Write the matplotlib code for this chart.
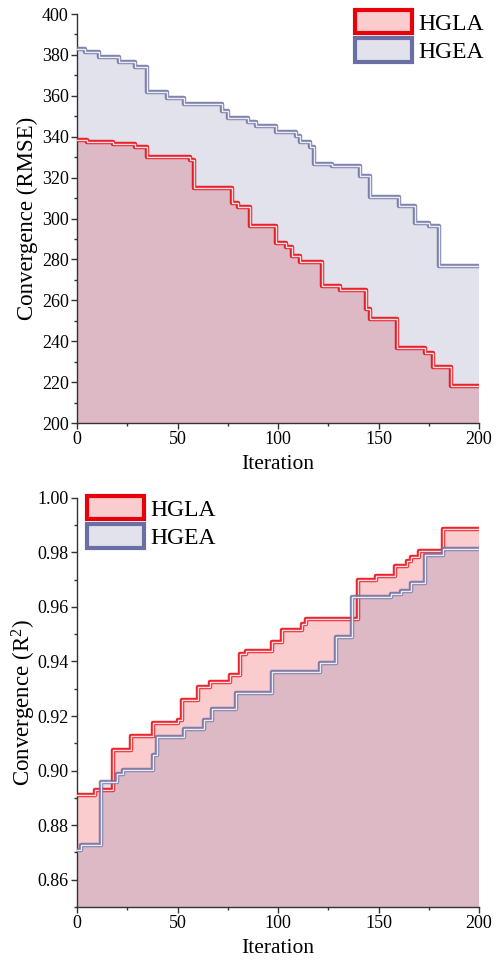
import matplotlib
matplotlib.use("Agg")
import matplotlib.pyplot as plt
from matplotlib.patches import Patch
from matplotlib.ticker import MultipleLocator, FormatStrFormatter

plt.rcParams['font.family'] = ['Liberation Serif', 'DejaVu Serif']
plt.rcParams['mathtext.fontset'] = 'custom'
plt.rcParams['mathtext.rm'] = 'Liberation Serif'
plt.rcParams['mathtext.it'] = 'Liberation Serif:italic'

# ---- data (iteration where a new best value starts, value) ----
labels = ["HGLA", "HGEA"]
x_max = 200

rmse_hgla_iter = [0, 5, 18, 29, 35, 56, 58, 77, 80, 86, 99, 104, 107, 111, 122, 131, 144, 146, 159, 173, 177, 186]
rmse_hgla_val = [338.3, 337.6, 336.6, 334.8, 330.2, 328.8, 314.8, 307.7, 305.5, 296.2, 287.9, 285.9, 281.8, 278.9,
                 267.0, 265.0, 256.0, 250.7, 236.5, 234.0, 227.5, 218.3]

rmse_hgea_iter = [0, 4, 11, 21, 29, 35, 45, 53, 72, 75, 85, 89, 99, 109, 111, 116, 118, 127, 141, 146, 160, 168, 175, 180]
rmse_hgea_val = [382.7, 381.6, 379.1, 376.5, 373.9, 362.0, 358.8, 355.8, 352.7, 349.0, 347.3, 345.2, 342.2, 340.5,
                 337.3, 335.0, 326.7, 325.7, 320.8, 310.4, 306.3, 297.6, 296.5, 277.0]

r2_hgla_iter = [0, 9, 18, 27, 38, 50, 52, 60, 66, 76, 81, 84, 97, 102, 112, 114, 140, 149, 158, 164, 166, 170, 182]
r2_hgla_val = [0.8909, 0.8929, 0.9076, 0.9125, 0.9174, 0.9186, 0.9259, 0.9308, 0.9323, 0.9351, 0.9427, 0.9437,
               0.9470, 0.9517, 0.9537, 0.9557, 0.9700, 0.9713, 0.9751, 0.9768, 0.9781, 0.9806, 0.9884]

r2_hgea_iter = [0, 2, 12, 20, 23, 38, 40, 53, 63, 67, 79, 97, 121, 129, 137, 156, 161, 166, 173, 182]
r2_hgea_val = [0.8709, 0.8728, 0.8960, 0.8988, 0.9003, 0.9058, 0.9122, 0.9152, 0.9186, 0.9225, 0.9286, 0.9360,
               0.9395, 0.9490, 0.9637, 0.9647, 0.9659, 0.9686, 0.9790, 0.9811]

red = '#e8000a'
blue = '#6a6ea3'
fill_alpha = 0.2

fig = plt.figure(figsize=(5.0, 9.68), dpi=100)
ax1 = fig.add_axes([0.154, 0.563, 0.804, 0.4225])
ax2 = fig.add_axes([0.154, 0.063, 0.804, 0.4228])


def draw(ax, it, val, color, ymin, z):
    xs = list(it) + [x_max]
    ys = list(val) + [val[-1]]
    ax.fill_between(xs, ys, ymin, step='post', color=color, alpha=fill_alpha, lw=0, zorder=z)
    ax.step(xs, ys, where='post', color=color, lw=3.2, alpha=0.85, zorder=z + 5)
    ax.step(xs, ys, where='post', color='white', lw=1.0, alpha=0.85, zorder=z + 5.5)


def style(ax, ylim, major, minor, ylabel):
    ax.set_xlim(0, 200)
    ax.set_ylim(*ylim)
    ax.xaxis.set_major_locator(MultipleLocator(50))
    ax.xaxis.set_minor_locator(MultipleLocator(25))
    ax.yaxis.set_major_locator(MultipleLocator(major))
    ax.yaxis.set_minor_locator(MultipleLocator(minor))
    for s in ['top', 'right']:
        ax.spines[s].set_visible(False)
    for s in ['left', 'bottom']:
        ax.spines[s].set_color('#333333')
        ax.spines[s].set_linewidth(1.0)
    ax.tick_params(which='major', direction='out', length=4, width=1, color='#333333', labelsize=13, pad=2)
    ax.tick_params(which='minor', direction='out', length=2.5, width=1, color='#333333')
    ax.set_xlabel('Iteration', fontsize=15.5, labelpad=5)
    ax.set_ylabel(ylabel, fontsize=16.5)
    ax.yaxis.set_label_coords(-0.097, 0.5)


draw(ax1, rmse_hgla_iter, rmse_hgla_val, red, 200, 1)
draw(ax1, rmse_hgea_iter, rmse_hgea_val, blue, 200, 2)
style(ax1, (200, 400), 20, 10, 'Convergence (RMSE)')

draw(ax2, r2_hgla_iter, r2_hgla_val, red, 0.85, 1)
draw(ax2, r2_hgea_iter, r2_hgea_val, blue, 0.85, 2)
style(ax2, (0.85, 1.00), 0.02, 0.01, 'Convergence (R$^2$)')
ax2.yaxis.set_major_formatter(FormatStrFormatter('%.2f'))

handles = [Patch(facecolor=(*matplotlib.colors.to_rgb(red), fill_alpha), edgecolor=red, linewidth=3),
           Patch(facecolor=(*matplotlib.colors.to_rgb(blue), fill_alpha), edgecolor=blue, linewidth=3)]
leg_kw = dict(frameon=False, fontsize=17, handlelength=2.4, handleheight=1.15, labelspacing=0.15,
              handletextpad=0.3, borderpad=0, borderaxespad=0, loc='upper left')
fig.legend(handles, labels, bbox_to_anchor=(355 / 500, 1 - 10 / 968), **leg_kw)
fig.legend(handles, labels, bbox_to_anchor=(87 / 500, 1 - 496 / 968), **leg_kw)

fig.savefig('out.png', dpi=100)
